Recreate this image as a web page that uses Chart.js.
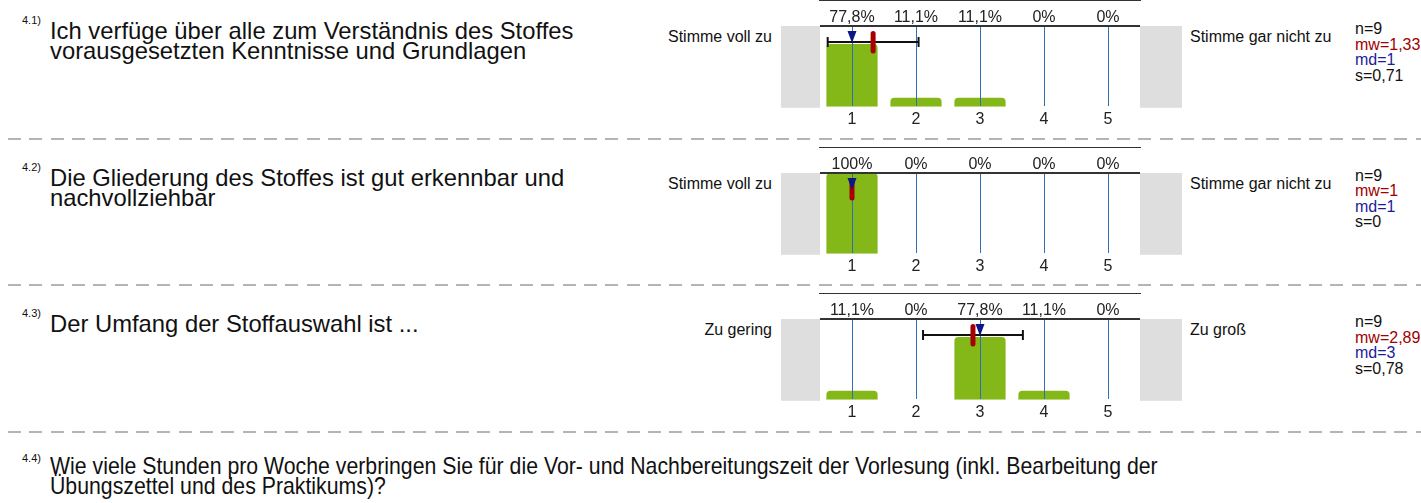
<!DOCTYPE html>
<html>
<head>
<meta charset="utf-8">
<script src="https://cdn.jsdelivr.net/npm/chart.js@4/dist/chart.umd.min.js"></script>
<style>
body { margin:0; width:1421px; height:503px; background:#fff; font-family:"Liberation Sans", Arial, sans-serif; color:#111; position:relative; overflow:hidden; }
.q { position:absolute; left:50px; font-size:23.8px; line-height:20px; white-space:nowrap; }
.qn { position:absolute; left:22px; font-size:11px; line-height:12px; }
.lbl { position:absolute; font-size:16px; line-height:18px; white-space:nowrap; }
.stats { position:absolute; left:1355px; font-size:16px; line-height:15.5px; }
.sep { position:absolute; left:8px; right:0; height:2px; background:repeating-linear-gradient(to right, #b4b4b4 0 13px, transparent 13px 21.33px); }
.wrap { position:absolute; left:770px; width:420px; height:135px; }
</style>
</head>
<body>
<script>
// data
var categories = ['1', '2', '3', '4', '5'];
var percents1 = [77.8, 11.1, 11.1, 0, 0];
var percents2 = [100, 0, 0, 0, 0];
var percents3 = [11.1, 0, 77.8, 11.1, 0];
var nValues = [9, 9, 9];
var means = [1.33, 1, 2.89];
var medians = [1, 1, 3];
var sds = [0.71, 0, 0.78];

var questionNumbers = ['4.1)', '4.2)', '4.3)', '4.4)'];
var questions = [
  'Ich verfüge über alle zum Verständnis des Stoffes<br>vorausgesetzten Kenntnisse und Grundlagen',
  'Die Gliederung des Stoffes ist gut erkennbar und<br>nachvollziehbar',
  'Der Umfang der Stoffauswahl ist ...',
  'Wie viele Stunden pro Woche verbringen Sie für die Vor- und Nachbereitungszeit der Vorlesung (inkl. Bearbeitung der<br>Übungszettel und des Praktikums)?'
];
var leftLabels = ['Stimme voll zu', 'Stimme voll zu', 'Zu gering'];
var rightLabels = ['Stimme gar nicht zu', 'Stimme gar nicht zu', 'Zu groß'];
var allPercents = [percents1, percents2, percents3];

function fmt(v) { return String(v).replace('.', ',') + '%'; }

var rowGap = 146.67;

function addDiv(cls, html, left, top, extra) {
  var d = document.createElement('div');
  d.className = cls;
  d.innerHTML = html;
  d.style.top = top + 'px';
  if (left !== null) d.style.left = left + 'px';
  if (extra) Object.assign(d.style, extra);
  document.body.appendChild(d);
  return d;
}

var decorPlugin = {
  id: 'decor',
  beforeDraw: function(chart) {
    var ctx = chart.ctx, a = chart.chartArea;
    ctx.save();
    ctx.fillStyle = '#dedede';
    ctx.fillRect(a.left - 39, a.top, 39, a.bottom - a.top + 1);
    ctx.fillRect(a.right, a.top, 42, a.bottom - a.top + 1);
    ctx.restore();
  },
  afterDraw: function(chart) {
    var ctx = chart.ctx, a = chart.chartArea, x = chart.scales.x;
    var o = chart.options.plugins.decor;
    var px = function(v) { return x.getPixelForValue(v - 1); };
    ctx.save();
    ctx.strokeStyle = '#333';
    ctx.lineWidth = 2;
    ctx.beginPath(); ctx.moveTo(a.left, a.top); ctx.lineTo(a.right, a.top); ctx.stroke();

    ctx.fillStyle = '#222';
    ctx.font = '16px "Liberation Sans", Arial';
    ctx.textAlign = 'center';
    ctx.textBaseline = 'middle';
    chart.data.datasets[0].data.forEach(function(v, i) {
      ctx.fillText(fmt(v), x.getPixelForValue(i), a.top - 8);
    });

    if (o.sd > 0) {
      var y = a.top + 16, x1 = px(o.mean - o.sd), x2 = px(o.mean + o.sd);
      ctx.strokeStyle = '#111';
      ctx.lineWidth = 2;
      ctx.beginPath();
      ctx.moveTo(x1, y); ctx.lineTo(x2, y);
      ctx.moveTo(x1, y - 5); ctx.lineTo(x1, y + 5);
      ctx.moveTo(x2, y - 5); ctx.lineTo(x2, y + 5);
      ctx.stroke();
    }

    ctx.strokeStyle = '#a80000';
    ctx.lineWidth = 5;
    ctx.lineCap = 'round';
    ctx.beginPath(); ctx.moveTo(px(o.mean), a.top + 7.5); ctx.lineTo(px(o.mean), a.top + 25); ctx.stroke();

    var mx = px(o.median);
    ctx.fillStyle = '#0c1688';
    ctx.beginPath();
    ctx.moveTo(mx - 4.5, a.top + 5); ctx.lineTo(mx + 4.5, a.top + 5); ctx.lineTo(mx, a.top + 17);
    ctx.closePath(); ctx.fill();
    ctx.restore();
  }
};

for (var r = 0; r < 4; r++) {
  var T = 26 + rowGap * r;
  if (r < 3) {
    addDiv('qn', questionNumbers[r], null, T - 12);
    addDiv('q', questions[r], null, T - 5);
    addDiv('lbl', leftLabels[r], null, T + 2, { right: (1421 - 772) + 'px' });
    addDiv('lbl', rightLabels[r], 1190, T + 2);
    addDiv('stats',
      'n=' + nValues[r] +
      '<br><span style="color:#a00000">mw=' + String(means[r]).replace('.', ',') + '</span>' +
      '<br><span style="color:#1c1c9a">md=' + String(medians[r]).replace('.', ',') + '</span>' +
      '<br>s=' + String(sds[r]).replace('.', ','), null, T - 5);
    addDiv('sep', '', null, T + 111.5);

    var wrap = addDiv('wrap', '', null, T - 26);
    var cv = document.createElement('canvas');
    cv.width = 420; cv.height = 135;
    wrap.appendChild(cv);

    new Chart(cv, {
      type: 'bar',
      data: {
        labels: categories,
        datasets: [{
          data: allPercents[r],
          backgroundColor: '#84b818',
          borderWidth: 0,
          borderRadius: 4,
          barPercentage: 0.8,
          categoryPercentage: 1
        }]
      },
      options: {
        responsive: false,
        animation: false,
        layout: { padding: { left: 50, right: 50, top: 26, bottom: 3 } },
        plugins: {
          legend: { display: false },
          tooltip: { enabled: false },
          decor: { mean: means[r], median: medians[r], sd: sds[r] }
        },
        scales: {
          x: {
            grid: { offset: false, color: '#2f6fb3', lineWidth: 1, drawTicks: false, z: 1 },
            border: { color: '#333', width: 2 },
            ticks: { color: '#222', font: { family: '"Liberation Sans", Arial', size: 16 }, padding: 3 }
          },
          y: { display: false, min: 0, max: 100 }
        }
      },
      plugins: [decorPlugin]
    });
  } else {
    addDiv('qn', questionNumbers[r], null, 452);
    addDiv('q', questions[r], null, 456, { transform: 'scaleX(0.894)', transformOrigin: '0 0' });
  }
}
</script>
</body>
</html>
